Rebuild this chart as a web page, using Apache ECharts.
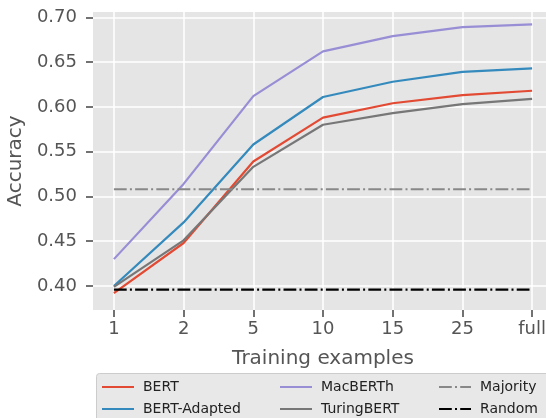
<!DOCTYPE html>
<html><head><meta charset="utf-8">
<script src="https://cdn.jsdelivr.net/npm/echarts@6/dist/echarts.min.js"></script>
<style>html,body{margin:0;padding:0;background:#fff}#c{width:546px;height:418px}</style>
</head><body><div id="c"></div>
<script>
const categories = ['1', '2', '5', '10', '15', '25', 'full'];
const bert = [0.392, 0.448, 0.539, 0.588, 0.604, 0.613, 0.618];
const bertAdapted = [0.400, 0.471, 0.558, 0.611, 0.628, 0.639, 0.643];
const macberth = [0.430, 0.514, 0.612, 0.662, 0.679, 0.689, 0.692];
const turingbert = [0.399, 0.451, 0.533, 0.580, 0.593, 0.603, 0.609];
const majority = 0.508;
const random = 0.396;
const yTicks = [0.40, 0.45, 0.50, 0.55, 0.60, 0.65, 0.70];

const FONT = 'DejaVu Sans';
const idx = categories.map((_, i) => i);
const toPts = arr => arr.map((v, i) => [i, v]);
const flat = v => [[0, v], [categories.length - 1, v]];
const dashDot = [12.8, 3.2, 2, 3.2];

const chart = echarts.init(document.getElementById('c'));
const lineSeries = (name, data, color, type) => ({
  name, type: 'line', data, symbol: 'none', silent: true,
  lineStyle: { color, width: 2.2, type: type || 'solid' },
  itemStyle: { color },
  z: 3
});
const legendBase = {
  orient: 'vertical', top: 380, padding: 0, height: 80, itemWidth: 32, itemHeight: 12, itemGap: 8,
  itemStyle: { opacity: 0 },
  textStyle: { fontFamily: FONT, fontSize: 14, color: '#222', padding: [0, 0, 0, 4] },
  selectedMode: false
};
const tickStyle = { color: '#444', width: 1.5 };
chart.setOption({
  animation: false,
  backgroundColor: '#fff',
  grid: { left: 93, top: 12, width: 460, height: 298, backgroundColor: '#e5e5e5', show: true, borderWidth: 0, outerBoundsMode: 'none', containLabel: false },
  xAxis: {
    type: 'value', min: -0.3, max: 6.3,
    name: 'Training examples', nameLocation: 'middle', nameGap: 39,
    nameTextStyle: { fontFamily: FONT, fontSize: 20, color: '#555' },
    axisLine: { show: false, onZero: false },
    axisTick: { show: true, inside: false, customValues: idx, length: 7, lineStyle: tickStyle },
    axisLabel: { customValues: idx, formatter: v => categories[Math.round(v)], fontFamily: FONT, fontSize: 18, color: '#555', margin: 10 },
    splitLine: { show: true, lineStyle: { color: '#fff', width: 1.5 } }
  },
  yAxis: {
    type: 'value', min: 0.3732, max: 0.7059,
    name: 'Accuracy', nameLocation: 'middle', nameGap: 58, nameRotate: 90,
    nameTextStyle: { fontFamily: FONT, fontSize: 20, color: '#555' },
    axisLine: { show: false, onZero: false },
    axisTick: { show: true, inside: false, customValues: yTicks, length: 7, lineStyle: tickStyle },
    axisLabel: { customValues: yTicks, formatter: v => v.toFixed(2), fontFamily: FONT, fontSize: 18, color: '#555', margin: 16 },
    splitLine: { show: true, lineStyle: { color: '#fff', width: 1.5 } }
  },
  graphic: [{
    type: 'rect', left: 96, top: 373, z: 0,
    shape: { width: 470, height: 60, r: 3 },
    style: { fill: '#e8e8e8', stroke: '#cccccc', lineWidth: 1 }
  }],
  legend: [
    Object.assign({}, legendBase, { left: 101, data: ['BERT', 'BERT-Adapted'] }),
    Object.assign({}, legendBase, { left: 279, data: ['MacBERTh', 'TuringBERT'] }),
    Object.assign({}, legendBase, { left: 438, data: ['Majority', 'Random'] })
  ],
  series: [
    lineSeries('BERT', toPts(bert), '#E24A33'),
    lineSeries('BERT-Adapted', toPts(bertAdapted), '#348ABD'),
    lineSeries('MacBERTh', toPts(macberth), '#988ED5'),
    lineSeries('TuringBERT', toPts(turingbert), '#777777'),
    lineSeries('Majority', flat(majority), '#888888', dashDot),
    lineSeries('Random', flat(random), '#000000', dashDot)
  ]
});
</script></body></html>
